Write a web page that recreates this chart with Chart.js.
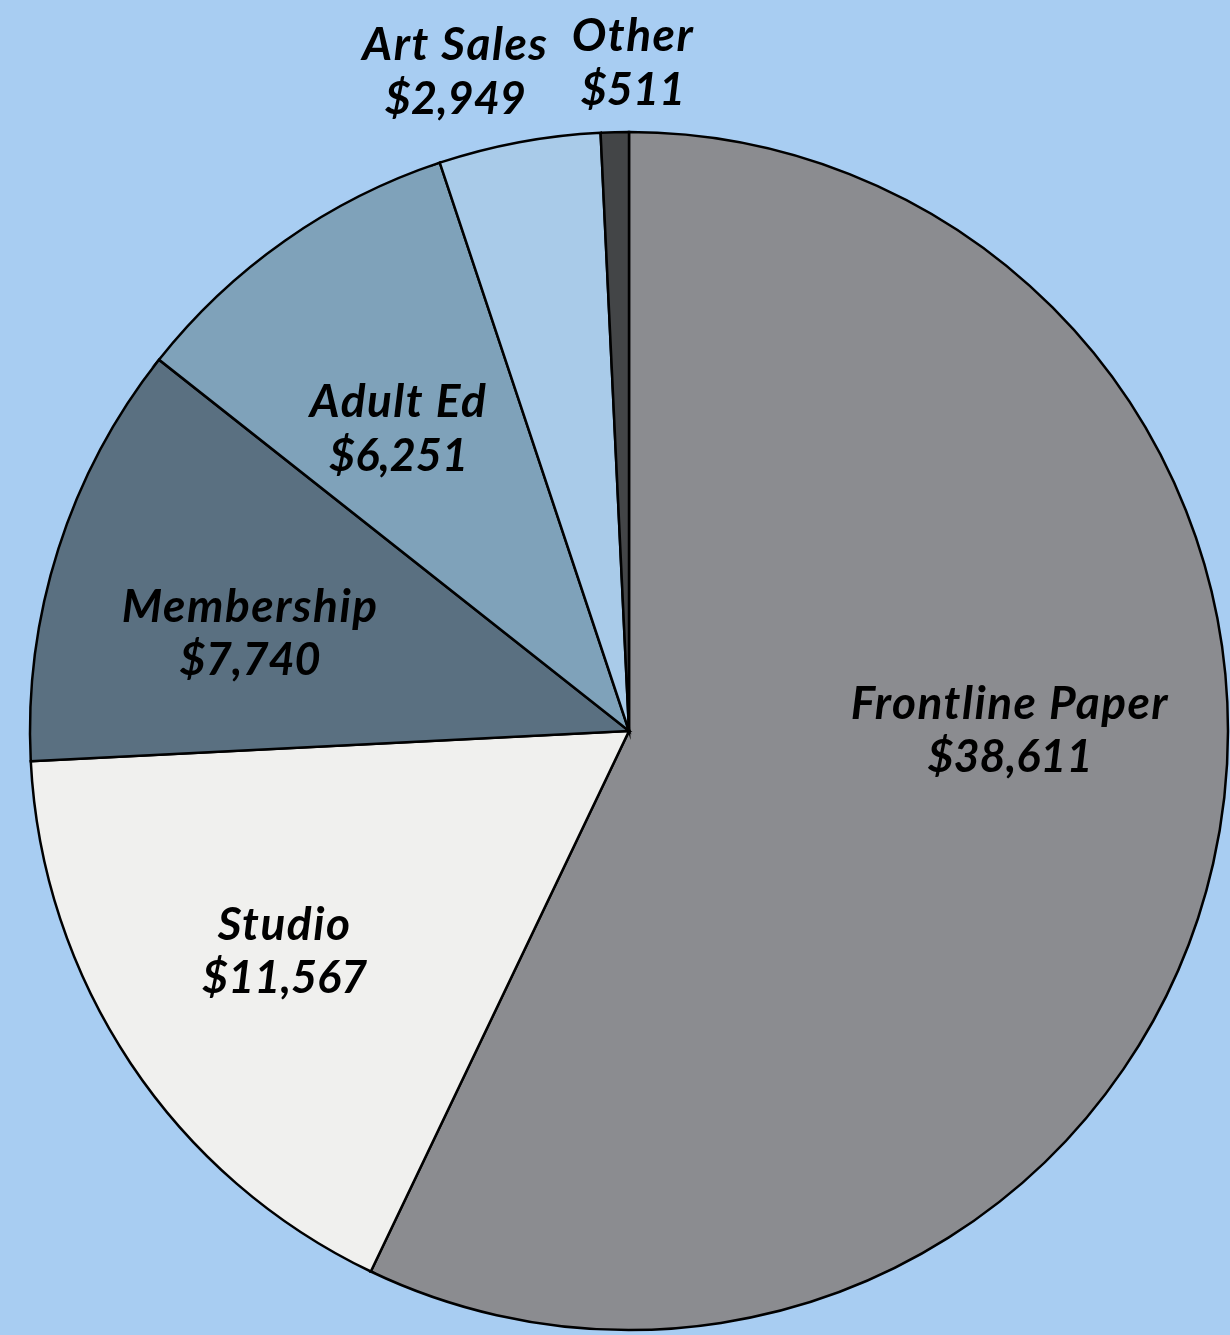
<!DOCTYPE html>
<html>
<head>
<meta charset="utf-8">
<script src="https://cdn.jsdelivr.net/npm/chart.js@4/dist/chart.umd.min.js"></script>
<style>
  html, body { margin: 0; padding: 0; background: #a8cdf2; }
  #wrap { width: 1230px; height: 1335px; position: relative; }
</style>
</head>
<body>
<div id="wrap"><canvas id="pie"></canvas></div>
<script>
// Daten aus dem Bild
var categories = ["Frontline Paper", "Studio", "Membership", "Adult Ed", "Art Sales", "Other"];
var amounts = [38611, 11567, 7740, 6251, 2949, 511];
var valueLabels = ["$38,611", "$11,567", "$7,740", "$6,251", "$2,949", "$511"];

// Farben der Segmente
var sliceColors = ["#8b8c90", "#f0f0ee", "#5a7081", "#7fa2ba", "#a9cbe9", "#434547"];

// Label-Position pro Segment: Winkelversatz (Grad) zur Segmentmitte, Radius-Faktor
var labelPlacement = [
  { turn: -12.8, r: 0.636 },
  { turn: 1.0, r: 0.683 },
  { turn: -3.3, r: 0.653 },
  { turn: -2.3, r: 0.634 },
  { turn: -4.2, r: 1.137 },
  { turn: 1.7, r: 1.115 }
];

// eigenes Plugin für die zweizeiligen Beschriftungen
var sliceLabels = {
  id: "sliceLabels",
  afterDatasetsDraw: function (chart) {
    var ctx = chart.ctx;
    var meta = chart.getDatasetMeta(0);
    ctx.save();
    ctx.fillStyle = "#000";
    ctx.textAlign = "center";
    ctx.textBaseline = "middle";
    meta.data.forEach(function (arc, i) {
      var p = arc.getProps(["x", "y", "startAngle", "endAngle", "outerRadius"], true);
      var place = labelPlacement[i];
      var ang = (p.startAngle + p.endAngle) / 2 + place.turn * Math.PI / 180;
      var rr = p.outerRadius * place.r;
      var cx = p.x + Math.cos(ang) * rr;
      var cy = p.y + Math.sin(ang) * rr;
      // Name etwas breiter gesetzt, Betrag ohne Sperrung
      ctx.font = "italic bold 46px Lato";
      ctx.letterSpacing = "1.5px";
      ctx.fillText(categories[i], cx, cy - 27);
      ctx.font = "italic bold 45px Lato";
      ctx.letterSpacing = "0px";
      ctx.fillText(valueLabels[i], cx, cy + 27);
    });
    ctx.restore();
  }
};

new Chart(document.getElementById("pie"), {
  type: "pie",
  data: {
    labels: categories,
    datasets: [{
      data: amounts,
      backgroundColor: sliceColors,
      borderColor: "#000",
      borderWidth: 2.5,
      borderJoinStyle: "miter"
    }]
  },
  options: {
    responsive: true,
    maintainAspectRatio: false,
    animation: false,
    radius: 599,
    layout: { padding: { left: 30, right: 2, top: 132, bottom: 5 } },
    plugins: {
      legend: { display: false },
      tooltip: { enabled: false }
    }
  },
  plugins: [sliceLabels]
});
</script>
</body>
</html>
